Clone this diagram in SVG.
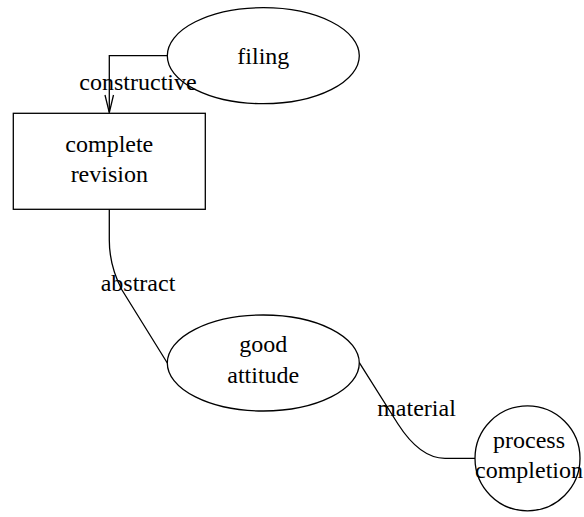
<svg xmlns="http://www.w3.org/2000/svg" width="584" height="517" viewBox="0 0 584 517">
<style>
.shape{fill:none;stroke:#000;stroke-width:1.3}
.edge{fill:none;stroke:#000;stroke-width:1.3}
text{font-family:"Liberation Serif","Times New Roman",serif;font-size:24px;fill:#000;text-anchor:middle}
</style>
<rect width="584" height="517" fill="#fff"/>
<g id="connectors">
<path class="edge" d="M167.3 55.7 H109.3 V112.7"/>
<path class="edge" d="M105 95 L109.3 112.7 L113.5 95"/>
<path class="edge" d="M109.3 209.3 V240 Q109.3 266 122 290 L167.3 363"/>
<path class="edge" d="M359.3 362.7 L398 424 Q420 458.3 445 458.3 H475"/>
<text x="138" y="90">constructive</text>
<text x="138" y="290.7">abstract</text>
<text x="416.5" y="415.7">material</text>
</g>
<g id="filing">
<ellipse class="shape" cx="263.3" cy="55.7" rx="96" ry="48"/>
<text x="263.3" y="63.5">filing</text>
</g>
<g id="complete_revision">
<rect class="shape" x="13.3" y="113.3" width="192" height="96"/>
<text x="109.3" y="151.7">complete</text>
<text x="109.3" y="181.7">revision</text>
</g>
<g id="good_attitude">
<ellipse class="shape" cx="263.3" cy="363" rx="96" ry="48"/>
<text x="263.3" y="352.3">good</text>
<text x="263.3" y="383.3">attitude</text>
</g>
<g id="process_completion">
<circle class="shape" cx="527.5" cy="458.3" r="52.5"/>
<text x="529" y="448.3">process</text>
<text x="529" y="478.3">completion</text>
</g>
</svg>
